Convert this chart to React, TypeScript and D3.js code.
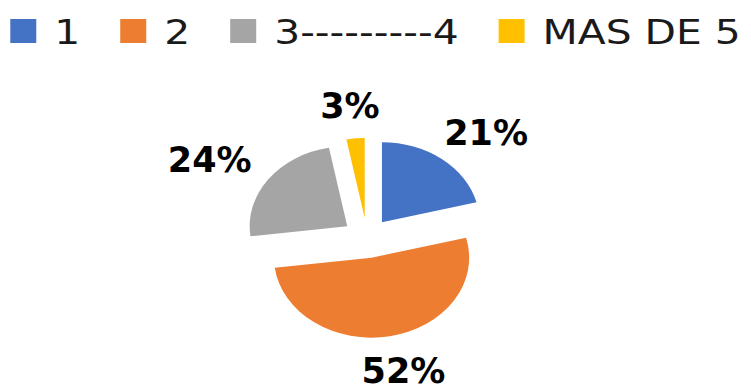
import React from 'react';
import * as d3 from 'd3';

const categories = ['1', '2', '3---------4', 'MAS DE 5'];
const values = [21, 52, 24, 3];
const pctLabels = ['21%', '52%', '24%', '3%'];
const colors = ['#4472C4', '#ED7D31', '#A5A5A5', '#FFC000'];

const W = 751;
const H = 390;

function measure(text: string, font: string): number {
  const c = document.createElement('canvas').getContext('2d');
  if (!c) return text.length * 20;
  c.font = font;
  return c.measureText(text).width;
}

export default function App() {
  const cx = 367;
  const cy = 238;
  const r = 80;
  const sx = 1.22;
  const explode = 20;

  const pie = d3.pie<number>().sort(null).value((d) => d);
  const arcs = pie(values);
  const arc = d3.arc<d3.PieArcDatum<number>>().innerRadius(0).outerRadius(r);

  // legend layout
  const legFont = '34px "DejaVu Sans"';
  const legScale = 1.2;
  const sq = 26;
  const sqH = 24;
  const gapText = 18;
  const gapItem = 40;
  const widths = categories.map((c) => measure(c, legFont) * legScale);
  const itemW = widths.map((w) => sq + gapText + w);
  const total = d3.sum(itemW) + gapItem * (categories.length - 1);
  let x0 = (W - total) / 2;
  const legendX: number[] = [];
  itemW.forEach((w) => {
    legendX.push(x0);
    x0 += w + gapItem;
  });

  const labFont = 'bold 35px "DejaVu Sans"';
  const Rx = 125;
  const Ry = 121;
  const hh = 13;

  return (
    <svg
      width={W}
      height={H}
      style={{ position: 'absolute', left: 0, top: 0, background: '#fff' }}
    >
      <rect width={W} height={H} fill="#fff" />
      {/* legend */}
      {categories.map((c, i) => (
        <g key={c}>
          <rect x={legendX[i]} y={19} width={sq} height={sqH} fill={colors[i]} />
          <text
            transform={`translate(${legendX[i] + sq + gapText},43.5) scale(${legScale},1)`}
            fontFamily="DejaVu Sans"
            fontSize={34}
            fill="#1a1a1a"
          >
            {c}
          </text>
        </g>
      ))}
      {/* pie */}
      <g transform={`translate(${cx},${cy}) scale(${sx},1)`}>
        {arcs.map((a, i) => {
          const mid = (a.startAngle + a.endAngle) / 2;
          const dx = Math.sin(mid) * explode;
          const dy = -Math.cos(mid) * explode;
          return (
            <path
              key={i}
              d={arc(a) || ''}
              transform={`translate(${dx},${dy})`}
              fill={colors[i]}
            />
          );
        })}
      </g>
      {/* labels */}
      {arcs.map((a, i) => {
        const mid = (a.startAngle + a.endAngle) / 2;
        const hw = measure(pctLabels[i], labFont) / 2;
        const lx = cx + Math.sin(mid) * (sx * Rx + hw);
        const ly = cy - Math.cos(mid) * (Ry + hh);
        return (
          <text
            key={i}
            x={lx}
            y={ly + hh}
            textAnchor="middle"
            fontFamily="DejaVu Sans"
            fontWeight="bold"
            fontSize={35}
            fill="#000"
          >
            {pctLabels[i]}
          </text>
        );
      })}
    </svg>
  );
}
